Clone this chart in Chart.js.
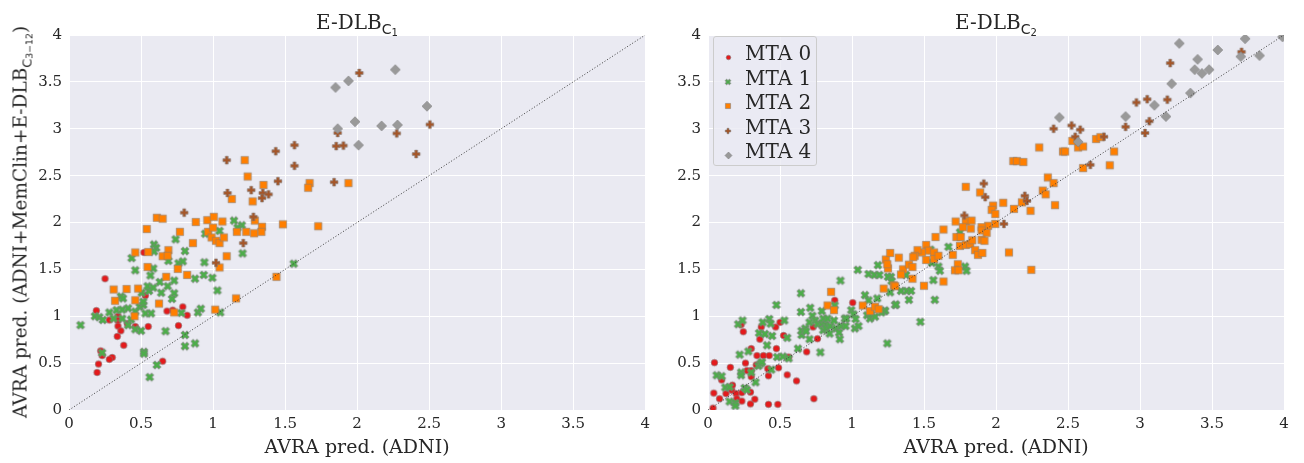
<!DOCTYPE html>
<html>
<head>
<meta charset="utf-8">
<script src="https://cdn.jsdelivr.net/npm/chart.js@4.4.1/dist/chart.umd.min.js"></script>
<style>
  body { margin: 0; background: #fff; color: #262626; font-family: 'DejaVu Serif', serif; }
  #page { position: relative; width: 1304px; height: 463px; overflow: hidden; }
  .panel { position: absolute; top: 0; height: 463px; }
  #panelLeft { left: 0; width: 655px; }
  #panelRight { left: 650px; width: 654px; }
  .title { position: absolute; top: 10px; font-size: 20px; line-height: 24px; transform: translateX(-50%); white-space: nowrap; }
  .xlabel { position: absolute; top: 435px; font-size: 19px; line-height: 22px; transform: translateX(-50%); white-space: nowrap; }
  .ylabel { position: absolute; left: 22px; top: 222px; font-size: 18.5px; line-height: 22px; white-space: nowrap;
            transform: translate(-50%, -50%) rotate(-90deg); }
  .sub { font-family: 'DejaVu Sans', sans-serif; font-size: 0.7em; position: relative; top: 0.35em; }
  .sub .sub2 { font-size: 0.72em; position: relative; top: 0.2em; }
  #legend { position: absolute; left: 713px; top: 36px; width: 104px; height: 130px; box-sizing: border-box;
            border: 1px solid #cccccc; border-radius: 3px; background: rgba(234, 234, 242, 0.8); z-index: 2; }
  #legend .row { position: absolute; left: 31px; font-size: 20px; line-height: 24px; white-space: nowrap; }
  #legend canvas { position: absolute; }
</style>
</head>
<body>
<div id="page">
  <div class="panel" id="panelLeft"><canvas id="chartC1" width="655" height="463"></canvas></div>
  <div class="panel" id="panelRight"><canvas id="chartC2" width="654" height="463"></canvas></div>
  <div class="title" style="left:357px">E-DLB<span class="sub">C<span class="sub2">1</span></span></div>
  <div class="title" style="left:996px">E-DLB<span class="sub">C<span class="sub2">2</span></span></div>
  <div class="xlabel" style="left:357px">AVRA pred. (ADNI)</div>
  <div class="xlabel" style="left:996px">AVRA pred. (ADNI)</div>
  <div class="ylabel">AVRA pred. (ADNI+MemClin+E-DLB<span class="sub">C<span class="sub2">3−12</span></span>)</div>
  <div id="legend"></div>
</div>
<script>
/* =========================
    Data
========================= */
const categories = ['MTA 0', 'MTA 1', 'MTA 2', 'MTA 3', 'MTA 4'];
const tickValues = [0, 0.5, 1, 1.5, 2, 2.5, 3, 3.5, 4];
const tickLabels = ['0', '0.5', '1', '1.5', '2', '2.5', '3', '3.5', '4'];
const diagonal = [0, 4];

// E-DLB C1 panel, [ADNI, ADNI+MemClin+E-DLB]
const c1Mta0 = [[0.25,1.40],[0.52,1.68],[0.53,1.22],[0.19,1.06],[0.28,0.96],[0.34,1.00],[0.34,0.955],[0.34,0.895],
  [0.36,0.845],[0.335,0.785],[0.38,0.69],[0.405,0.92],[0.46,0.89],[0.55,0.89],[0.68,1.055],[0.72,1.065],[0.79,1.10],
  [0.82,1.01],[0.76,0.90],[0.22,0.63],[0.23,0.58],[0.30,0.56],[0.28,0.54],[0.205,0.49],[0.195,0.40],[0.65,0.52]];
const c1Mta1 = [[0.08,0.905],[0.18,1.00],[0.21,0.99],[0.235,0.96],[0.28,1.04],[0.31,0.975],[0.33,1.065],[0.37,1.07],
  [0.41,1.085],[0.37,0.975],[0.43,0.965],[0.46,1.05],[0.49,1.10],[0.515,1.12],[0.53,1.03],[0.57,1.03],[0.41,0.905],
  [0.46,0.86],[0.50,0.845],[0.52,0.62],[0.52,0.60],[0.23,0.61],[0.56,0.35],[0.61,0.48],[0.67,0.84],[0.805,0.80],
  [0.805,0.68],[0.875,0.71],[0.895,1.04],[0.915,1.08],[1.05,1.04],[0.36,1.21],[0.375,1.19],[0.46,1.49],[0.435,1.62],
  [0.59,1.765],[0.605,1.73],[0.59,1.69],[0.585,1.51],[0.565,1.435],[0.63,1.365],[0.685,1.32],[0.73,1.38],[0.73,1.245],
  [0.715,1.185],[0.64,1.25],[0.555,1.27],[0.505,1.25],[0.545,1.32],[0.585,1.305],[0.515,1.155],[0.69,1.59],[0.74,1.82],
  [0.805,1.695],[0.76,1.565],[0.79,1.585],[0.875,1.40],[0.935,1.44],[0.995,1.41],[1.03,1.275],[0.94,1.575],[0.945,1.88],
  [1.045,1.91],[1.145,2.02],[1.20,1.97],[1.17,1.945],[1.205,1.67],[1.56,1.56],[0.78,1.035]];
const c1Mta2 = [[0.61,2.05],[0.65,2.04],[0.54,1.93],[0.46,1.68],[0.55,1.685],[0.77,1.90],[0.86,1.78],[0.88,2.005],
  [0.96,2.025],[1.005,2.06],[1.065,2.01],[0.965,1.90],[1.00,1.945],[0.99,1.84],[1.02,1.805],[1.045,1.78],[1.075,1.84],
  [1.165,1.90],[1.095,1.64],[1.045,1.52],[0.69,1.705],[0.65,1.64],[0.685,1.645],[0.755,1.505],[0.545,1.525],[0.675,1.42],
  [0.82,1.44],[0.31,1.285],[0.40,1.29],[0.48,1.295],[0.32,1.165],[0.46,1.17],[0.625,1.135],[0.73,1.04],[0.455,1.00],
  [1.015,1.07],[1.16,1.19],[1.44,1.42],[1.22,2.665],[1.24,2.49],[1.35,2.40],[1.13,2.25],[1.275,2.225],[1.67,2.42],
  [1.66,2.37],[1.94,2.42],[1.29,2.02],[1.485,1.98],[1.73,1.96],[1.34,1.955],[1.335,1.90],[1.285,1.885],[1.23,1.90]];
const c1Mta3 = [[0.80,2.105],[1.02,1.57],[1.21,1.78],[1.095,2.665],[1.435,2.76],[1.565,2.825],[1.565,2.605],[1.855,2.815],
  [1.905,2.82],[1.84,2.43],[1.45,2.44],[1.10,2.315],[1.265,2.345],[1.345,2.315],[1.385,2.30],[1.34,2.26],[1.28,2.06],
  [2.015,3.595],[2.505,3.045],[2.275,2.95],[1.865,2.955],[2.41,2.73]];
const c1Mta4 = [[1.85,3.44],[1.94,3.51],[2.265,3.63],[2.485,3.24],[1.985,3.075],[1.865,3.00],[2.17,3.03],[2.28,3.04],[2.01,2.825]];

// E-DLB C2 panel
const c2Mta0 = [[0.035,0.02],[0.045,0.505],[0.04,0.18],[0.08,0.12],[0.095,0.32],[0.155,0.455],[0.125,0.175],[0.165,0.21],
  [0.17,0.265],[0.195,0.175],[0.20,0.12],[0.235,0.185],[0.235,0.095],[0.26,0.50],[0.27,0.42],[0.30,0.355],[0.30,0.42],
  [0.295,0.19],[0.295,0.065],[0.325,0.115],[0.335,0.48],[0.34,0.58],[0.30,0.655],[0.385,0.58],[0.425,0.58],[0.42,0.365],
  [0.415,0.44],[0.42,0.06],[0.485,0.06],[0.475,0.655],[0.49,0.45],[0.55,0.375],[0.56,0.565],[0.615,0.31],[0.685,0.62],
  [0.735,0.12],[0.525,0.795],[0.47,0.885],[0.50,0.935],[0.37,0.885],[0.23,0.91],[0.245,0.835],[0.36,0.755],[0.73,0.885],
  [0.76,0.76],[0.88,1.17],[1.005,1.145]];
const c2Mta1 = [[0.06,0.37],[0.095,0.36],[0.12,0.24],[0.15,0.245],[0.15,0.09],[0.19,0.075],[0.19,0.045],[0.22,0.59],
  [0.23,0.40],[0.23,0.37],[0.255,0.235],[0.27,0.215],[0.28,0.625],[0.30,0.40],[0.33,0.295],[0.35,0.47],[0.365,0.495],
  [0.375,0.51],[0.41,0.69],[0.355,0.82],[0.38,0.935],[0.395,0.81],[0.425,0.97],[0.435,0.92],[0.445,0.79],[0.53,0.955],
  [0.21,0.915],[0.24,0.955],[0.44,0.43],[0.48,0.565],[0.52,0.57],[0.56,0.55],[0.55,0.77],[0.625,0.655],[0.645,1.045],
  [0.645,1.245],[0.475,1.12],[0.65,0.80],[0.65,0.845],[0.675,0.87],[0.68,0.84],[0.705,0.755],[0.705,0.935],[0.71,1.09],
  [0.725,1.005],[0.745,0.955],[0.76,0.915],[0.78,0.615],[0.79,0.92],[0.815,0.91],[0.80,0.975],[0.79,1.055],[0.80,0.85],
  [0.82,0.87],[0.83,0.975],[0.845,0.815],[0.85,0.895],[0.875,0.955],[0.88,1.115],[0.89,0.87],[0.91,0.825],[0.915,0.755],
  [0.925,0.895],[0.955,0.895],[0.95,0.975],[0.92,1.38],[0.96,0.975],[0.995,1.065],[1.01,1.02],[1.02,0.87],[1.025,0.97],
  [1.045,0.895],[1.09,1.225],[1.115,1.17],[1.105,1.01],[1.125,0.975],[1.135,1.02],[1.16,0.995],[1.175,1.19],[1.225,1.055],
  [1.245,0.71],[1.04,1.495],[1.115,1.45],[1.155,1.44],[1.19,1.44],[1.18,1.545],[1.265,1.255],[1.30,1.12],[1.27,1.42],
  [1.67,1.74],[1.75,1.895],[1.60,1.53],[1.61,1.485],[1.785,1.53],[1.795,1.485],[1.565,1.385],[1.575,1.175],[1.475,0.94],
  [1.545,1.71],[1.555,1.57],[1.395,1.175],[1.305,1.125],[1.34,1.27],[1.38,1.27],[1.41,1.27],[1.375,1.44],[1.25,1.42],
  [1.275,1.375],[1.23,1.06],[1.205,1.04]];
const c2Mta2 = [[0.855,1.26],[0.83,1.115],[0.875,1.065],[1.075,1.115],[1.125,1.055],[1.16,1.10],[1.185,1.075],[1.22,1.295],
  [1.235,1.605],[1.25,1.51],[1.265,1.675],[1.29,1.33],[2.30,2.80],[2.465,2.757],[2.48,2.757],[2.57,2.80],[2.605,2.81],
  [2.53,2.87],[2.695,2.89],[2.725,2.91],[2.82,2.757],[2.12,2.655],[2.145,2.655],[2.19,2.645],[2.36,2.48],[2.40,2.42],
  [2.605,2.58],[2.79,2.61],[2.325,2.34],[2.345,2.30],[2.41,2.185],[2.24,2.125],[2.18,2.215],[2.125,2.145],[2.05,2.21],
  [1.98,2.18],[1.97,2.135],[1.995,2.09],[1.995,1.985],[1.945,1.965],[1.90,1.95],[1.90,1.915],[1.935,1.89],[1.90,1.815],
  [1.92,1.805],[1.79,2.38],[1.89,2.32],[1.72,2.01],[1.79,2.015],[1.83,2.02],[1.77,1.95],[1.825,1.935],[1.635,1.925],
  [1.58,1.845],[1.725,1.845],[1.755,1.845],[1.75,1.75],[1.79,1.76],[1.82,1.77],[1.835,1.81],[1.855,1.705],[1.875,1.655],
  [1.905,1.675],[2.09,1.68],[2.245,1.495],[1.70,1.655],[1.735,1.555],[1.715,1.49],[1.74,1.49],[1.635,1.37],[1.50,1.325],
  [1.515,1.76],[1.53,1.70],[1.485,1.68],[1.455,1.705],[1.435,1.645],[1.425,1.63],[1.515,1.60],[1.57,1.68],[1.57,1.61],
  [1.60,1.645],[1.325,1.625],[1.245,1.555],[1.355,1.50],[1.395,1.55],[1.42,1.525],[1.34,1.445],[1.42,1.40],[1.30,1.32]];
const c2Mta3 = [[1.915,2.415],[1.925,2.27],[1.78,2.075],[2.20,2.285],[2.215,2.23],[2.655,2.615],[2.055,1.985],[3.21,3.70],
  [3.705,3.82],[2.975,3.28],[3.05,3.315],[3.19,3.31],[2.90,3.02],[3.065,3.08],[3.035,2.955],[2.40,3.0],[2.525,3.035],
  [2.585,2.99],[2.55,2.915],[2.75,2.915]];
const c2Mta4 = [[3.273,3.91],[3.40,3.74],[3.38,3.63],[3.43,3.59],[3.48,3.63],[3.54,3.84],[3.73,3.96],[3.70,3.77],
  [3.83,3.78],[3.99,3.98],[3.22,3.48],[3.35,3.38],[3.10,3.25],[3.18,3.13],[2.90,3.13],[2.44,3.12],[2.57,2.86]];

/* =========================
    Marker styles
========================= */
const seriesColors = ['#e41a1c', '#4daf4a', '#ff7f00', '#a65628', '#999999'];
const seriesShapes = ['circle', 'x', 'square', 'plus', 'diamond'];
const seriesSizes = [6.6, 7.4, 7.4, 7.8, 10];
const markerEdge = 'rgba(125, 125, 125, 0.55)';

function crossPath(g, r) {
    const t = r * 0.36;
    const pts = [[-t,-r],[t,-r],[t,-t],[r,-t],[r,t],[t,t],[t,r],[-t,r],[-t,t],[-r,t],[-r,-t],[-t,-t]];
    g.moveTo(pts[0][0], pts[0][1]);
    pts.slice(1).forEach(p => g.lineTo(p[0], p[1]));
    g.closePath();
}

function makeMarker(shape, fill, size) {
    const c = document.createElement('canvas');
    const n = Math.ceil(size) + 4;
    c.width = n; c.height = n;
    const g = c.getContext('2d');
    const r = size / 2;
    g.translate(n / 2, n / 2);
    g.beginPath();
    if (shape === 'circle') g.arc(0, 0, r, 0, Math.PI * 2);
    else if (shape === 'square') g.rect(-r, -r, size, size);
    else if (shape === 'diamond') { g.moveTo(0, -r); g.lineTo(r, 0); g.lineTo(0, r); g.lineTo(-r, 0); g.closePath(); }
    else if (shape === 'plus') crossPath(g, r);
    else if (shape === 'x') { g.rotate(Math.PI / 4); crossPath(g, r * 1.15); }
    g.fillStyle = fill;
    g.fill();
    g.lineWidth = 1;
    g.strokeStyle = markerEdge;
    g.stroke();
    return c;
}

const markerImages = seriesShapes.map((s, i) => makeMarker(s, seriesColors[i], seriesSizes[i]));

/* =========================
    Chart helpers
========================= */
const plotBackground = {
    id: 'plotBackground',
    beforeDraw(chart) {
        const { ctx, chartArea: a } = chart;
        ctx.save();
        ctx.fillStyle = '#eaeaf2';
        ctx.fillRect(a.left, a.top, a.right - a.left, a.bottom - a.top);
        ctx.restore();
    }
};

function axis(horizontal, fitSize) {
    return {
        type: 'linear',
        min: 0,
        max: 4,
        afterBuildTicks: s => { s.ticks = tickValues.map(v => ({ value: v })); },
        afterFit: s => { if (horizontal) s.height = fitSize; else s.width = fitSize; },
        ticks: {
            callback: v => tickLabels[tickValues.indexOf(v)],
            color: '#262626',
            font: { family: 'DejaVu Serif', size: 15 },
            padding: horizontal ? 5 : 7,
            maxRotation: 0,
            autoSkip: false
        },
        grid: { color: '#ffffff', lineWidth: 1, drawTicks: false },
        border: { display: false }
    };
}

function buildDatasets(groups) {
    const sets = groups.map((pts, i) => ({
        label: categories[i],
        data: pts.map(p => ({ x: p[0], y: p[1] })),
        pointStyle: markerImages[i],
        pointRadius: 4,
        order: groups.length - i,
        clip: 0
    }));
    sets.push({
        label: 'identity',
        data: diagonal.map(v => ({ x: v, y: v })),
        showLine: true,
        borderColor: '#3c3c3c',
        borderWidth: 1,
        borderDash: [1, 2],
        pointRadius: 0,
        order: 0,
        clip: 0
    });
    return sets;
}

function drawPanel(canvasId, groups, yAxisWidth, padRight) {
    return new Chart(document.getElementById(canvasId), {
        type: 'scatter',
        data: { datasets: buildDatasets(groups) },
        options: {
            responsive: false,
            animation: false,
            events: [],
            layout: { padding: { left: 0, right: padRight, top: 35, bottom: 0 } },
            plugins: { legend: { display: false }, title: { display: false }, tooltip: { enabled: false } },
            scales: { x: axis(true, 53), y: axis(false, yAxisWidth) }
        },
        plugins: [plotBackground]
    });
}

drawPanel('chartC1', [c1Mta0, c1Mta1, c1Mta2, c1Mta3, c1Mta4], 69, 9);
drawPanel('chartC2', [c2Mta0, c2Mta1, c2Mta2, c2Mta3, c2Mta4], 58, 20);

/* =========================
    Legend (inside right panel)
========================= */
const legendBox = document.getElementById('legend');
categories.forEach((name, i) => {
    const centre = 16 + i * 24.6;
    const m = makeMarker(seriesShapes[i], seriesColors[i], seriesSizes[i] * 0.7);
    m.style.left = (14 - m.width / 2) + 'px';
    m.style.top = (centre + 4 - m.height / 2) + 'px';
    legendBox.appendChild(m);
    const row = document.createElement('div');
    row.className = 'row';
    row.style.top = (centre - 12) + 'px';
    row.textContent = name;
    legendBox.appendChild(row);
});
</script>
</body>
</html>
